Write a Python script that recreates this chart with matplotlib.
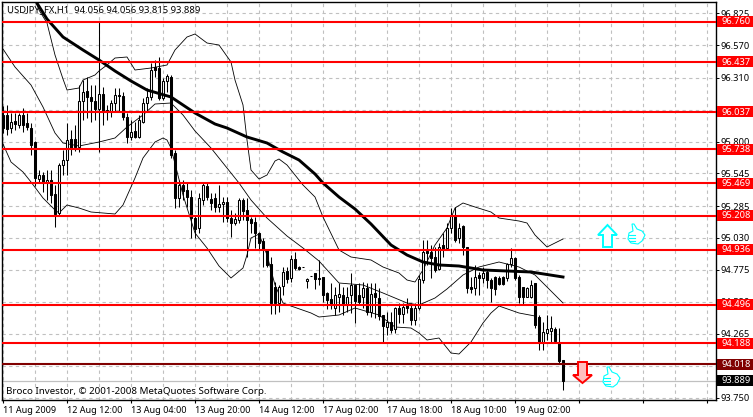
import matplotlib
matplotlib.use('Agg')
import matplotlib.pyplot as plt
from matplotlib.patches import Polygon, Rectangle
from matplotlib.transforms import Affine2D, blended_transform_factory

plt.rcParams['font.family'] = ['Noto Sans', 'DejaVu Sans']

# H1 candles
opens = [96.013, 96.013, 95.909, 95.965, 95.933, 96.013, 95.949, 95.909, 95.797, 95.501,
         95.533, 95.469, 95.493, 95.381, 95.229, 95.613, 95.653, 95.821, 95.821, 95.757,
         96.125, 96.205, 96.157, 96.125, 96.061, 96.181, 96.053, 96.037, 96.109, 96.173,
         96.165, 95.997, 95.837, 95.885, 95.837, 95.957, 96.109, 96.157, 96.397, 96.389,
         96.149, 96.285, 96.317, 95.709, 95.349, 95.453, 95.413, 95.357, 95.189, 95.109,
         95.333, 95.445, 95.341, 95.349, 95.277, 95.301, 95.317, 95.189, 95.149, 95.173,
         95.333, 95.253, 95.181, 95.157, 95.069, 95.005, 94.933, 94.821, 94.637, 94.509,
         94.645, 94.765, 94.709, 94.861, 94.797, 94.797, 94.685, 94.725, 94.749, 94.701,
         94.717, 94.589, 94.541, 94.469, 94.557, 94.573, 94.493, 94.573, 94.653, 94.573,
         94.557, 94.629, 94.437, 94.589, 94.549, 94.413, 94.317, 94.357, 94.301, 94.469,
         94.421, 94.493, 94.469, 94.373, 94.469, 94.693, 94.925, 94.917, 94.877, 94.781,
         94.973, 94.949, 95.109, 95.205, 95.029, 95.125, 94.957, 94.637, 94.629, 94.733,
         94.709, 94.757, 94.693, 94.717, 94.709, 94.717, 94.709, 94.821, 94.869, 94.717,
         94.637, 94.557, 94.557, 94.669, 94.397, 94.189, 94.269, 94.285, 94.301, 94.197,
         94.056]
closes = [95.909, 95.901, 95.957, 95.941, 96.013, 95.933, 95.917, 95.773, 95.509, 95.533,
          95.469, 95.493, 95.373, 95.221, 95.613, 95.653, 95.813, 95.749, 95.757, 96.125,
          96.197, 96.157, 96.125, 96.061, 96.181, 96.037, 96.037, 96.109, 96.173, 96.165,
          95.997, 95.837, 95.877, 95.837, 95.973, 96.109, 96.157, 96.373, 96.373, 96.149,
          96.285, 96.325, 95.693, 95.349, 95.453, 95.405, 95.357, 95.189, 95.101, 95.349,
          95.453, 95.357, 95.309, 95.277, 95.301, 95.317, 95.189, 95.149, 95.181, 95.333,
          95.245, 95.173, 95.149, 95.069, 94.989, 94.933, 94.813, 94.509, 94.509, 94.637,
          94.757, 94.701, 94.861, 94.789, 94.781, 94.797, 94.701, 94.725, 94.701, 94.709,
          94.573, 94.533, 94.493, 94.573, 94.581, 94.493, 94.557, 94.653, 94.525, 94.517,
          94.629, 94.437, 94.581, 94.557, 94.405, 94.325, 94.357, 94.293, 94.469, 94.421,
          94.477, 94.469, 94.373, 94.469, 94.701, 94.917, 94.909, 94.869, 94.773, 94.957,
          94.941, 95.109, 95.205, 95.013, 95.109, 94.957, 94.629, 94.621, 94.717, 94.709,
          94.749, 94.693, 94.629, 94.621, 94.661, 94.661, 94.821, 94.869, 94.709, 94.557,
          94.557, 94.629, 94.653, 94.333, 94.189, 94.277, 94.301, 94.309, 94.205, 94.045,
          93.889]
highs = [96.085, 96.093, 96.029, 96.029, 96.029, 96.069, 96.029, 95.949, 95.805, 95.573,
         95.557, 95.573, 95.573, 95.453, 95.629, 95.733, 95.949, 95.893, 95.933, 96.253,
         96.293, 96.317, 96.253, 96.253, 96.757, 96.237, 96.093, 96.133, 96.229, 96.229,
         96.197, 96.029, 95.973, 95.957, 96.013, 96.149, 96.229, 96.429, 96.453, 96.477,
         96.309, 96.341, 96.333, 95.733, 95.493, 95.493, 95.477, 95.413, 95.205, 95.389,
         95.469, 95.469, 95.389, 95.389, 95.453, 95.357, 95.357, 95.253, 95.229, 95.349,
         95.349, 95.349, 95.197, 95.197, 95.077, 95.029, 94.933, 94.877, 94.677, 94.653,
         94.797, 94.797, 94.893, 94.917, 94.805, 94.797, 94.709, 94.725, 94.749, 94.853,
         94.717, 94.597, 94.669, 94.637, 94.669, 94.637, 94.637, 94.749, 94.653, 94.669,
         94.677, 94.669, 94.669, 94.669, 94.629, 94.413, 94.437, 94.437, 94.477, 94.509,
         94.509, 94.549, 94.509, 94.509, 94.733, 95.013, 95.013, 94.973, 94.957, 94.989,
         95.069, 95.149, 95.269, 95.277, 95.149, 95.133, 94.957, 94.717, 94.813, 94.757,
         94.797, 94.773, 94.709, 94.725, 94.725, 94.725, 94.829, 94.949, 94.877, 94.733,
         94.637, 94.637, 94.693, 94.669, 94.413, 94.357, 94.413, 94.405, 94.317, 94.309,
         94.056]
lows = [95.869, 95.853, 95.869, 95.893, 95.909, 95.877, 95.893, 95.693, 95.445, 95.469,
        95.397, 95.333, 95.309, 95.117, 95.213, 95.533, 95.533, 95.693, 95.725, 95.717,
        95.973, 95.989, 95.957, 95.973, 95.717, 95.933, 95.973, 95.997, 96.037, 96.037,
        95.973, 95.789, 95.813, 95.829, 95.829, 95.949, 96.037, 96.133, 96.317, 96.133,
        96.133, 96.197, 95.669, 95.269, 95.277, 95.333, 95.277, 95.029, 95.029, 95.069,
        95.293, 95.333, 95.253, 95.237, 95.237, 95.157, 95.157, 95.037, 95.133, 95.149,
        95.173, 94.877, 95.069, 94.949, 94.933, 94.797, 94.797, 94.421, 94.421, 94.437,
        94.573, 94.669, 94.677, 94.773, 94.773, 94.797, 94.629, 94.725, 94.621, 94.653,
        94.517, 94.461, 94.461, 94.413, 94.437, 94.413, 94.437, 94.429, 94.349, 94.493,
        94.469, 94.413, 94.397, 94.389, 94.373, 94.197, 94.253, 94.269, 94.269, 94.349,
        94.349, 94.429, 94.333, 94.333, 94.453, 94.669, 94.813, 94.709, 94.757, 94.773,
        94.877, 94.933, 95.069, 94.997, 94.989, 94.893, 94.589, 94.589, 94.573, 94.573,
        94.669, 94.629, 94.517, 94.573, 94.653, 94.653, 94.685, 94.797, 94.693, 94.509,
        94.493, 94.557, 94.549, 94.309, 94.133, 94.133, 94.213, 94.197, 94.189, 94.029,
        93.815]

ma_bars = [8, 11, 15, 20, 24, 28, 32, 36, 42, 48, 53, 56, 61, 66, 70, 74, 78, 80, 84, 88,
           92, 97, 101, 105, 109, 114, 117, 120, 126, 132, 140]
ma_vals = [96.933, 96.781, 96.637, 96.533, 96.453, 96.365, 96.285, 96.213, 96.157, 96.029,
           95.941, 95.909, 95.837, 95.789, 95.717, 95.653, 95.541, 95.469, 95.357, 95.261,
           95.141, 94.973, 94.893, 94.837, 94.813, 94.805, 94.789, 94.773, 94.765, 94.757,
           94.717]

upper_bars = [8, 9, 11, 13, 15, 16, 19, 20, 23, 24, 26, 28, 31, 33, 37, 41, 43, 46, 48, 51, 54,
              57, 58, 60, 61, 62, 64, 66, 68, 69, 71, 75, 78, 80, 84, 87, 92, 95, 99, 101,
              103, 105, 108, 111, 113, 115, 118, 122, 124, 129, 131, 133, 136, 140]
upper_vals = [96.933, 96.853, 96.749, 96.493, 96.301, 96.213, 96.229, 96.293, 96.333, 96.365,
              96.413, 96.469, 96.477, 96.373, 96.389, 96.413, 96.533, 96.637, 96.661, 96.589,
              96.573, 96.437, 96.293, 96.093, 95.813, 95.573, 95.501, 95.533, 95.645, 95.661,
              95.613, 95.453, 95.357, 95.197, 94.933, 94.877, 94.853, 94.797, 94.749, 94.693,
              94.677, 94.773, 94.973, 95.109, 95.269, 95.309, 95.277, 95.237, 95.189, 95.165,
              95.149, 95.053, 94.957, 95.021]

mid_bars = [0, 3, 7, 10, 13, 15, 19, 24, 28, 31, 35, 38, 42, 45, 48, 52, 56, 59, 62, 66, 71,
            75, 79, 84, 90, 95, 101, 104, 108, 111, 115, 119, 124, 129, 133, 136, 140]
mid_vals = [96.541, 96.397, 96.253, 96.077, 95.869, 95.789, 95.765, 95.797, 95.829, 95.917,
            96.013, 96.101, 96.109, 96.013, 95.885, 95.749, 95.589, 95.469, 95.333, 95.189,
            95.045, 94.949, 94.845, 94.669, 94.653, 94.589, 94.509, 94.493, 94.549, 94.621,
            94.733, 94.797, 94.837, 94.797, 94.733, 94.637, 94.509]

lower_bars = [0, 2, 5, 7, 10, 13, 14, 16, 19, 22, 28, 30, 33, 35, 38, 40, 41, 42, 45, 48, 51,
              54, 57, 60, 61, 62, 64, 66, 68, 70, 72, 77, 79, 84, 88, 94, 98, 102, 104, 106,
              109, 112, 114, 117, 120, 122, 124, 129, 133]
lower_vals = [95.781, 95.637, 95.557, 95.477, 95.349, 95.253, 95.229, 95.293, 95.269, 95.237,
              95.221, 95.293, 95.509, 95.669, 95.797, 95.829, 95.813, 95.749, 95.373, 95.069,
              94.949, 94.805, 94.709, 94.789, 94.893, 95.029, 95.061, 94.893, 94.653, 94.509,
              94.485, 94.429, 94.397, 94.413, 94.469, 94.413, 94.317, 94.309, 94.269, 94.213,
              94.229, 94.109, 94.101, 94.197, 94.349, 94.429, 94.485, 94.429, 94.405]

red_levels = [96.760, 96.437, 96.037, 95.738, 95.469, 95.208, 94.936, 94.496, 94.188]
dark_level = 94.018
last_price = 93.889

price_ticks = [96.825, 96.570, 96.310, 96.055, 95.800, 95.545, 95.285, 95.030, 94.775,
               94.520, 94.265, 94.005, 93.750]
time_labels = ['11 Aug 2009', '12 Aug 12:00', '13 Aug 04:00', '13 Aug 20:00', '14 Aug 12:00',
               '17 Aug 02:00', '17 Aug 18:00', '18 Aug 10:00', '19 Aug 02:00']

W, H = 753, 417
fig = plt.figure(figsize=(W / 100, H / 100), dpi=100, facecolor='white')
ax = fig.add_axes([2 / W, 1 - 400 / H, 714 / W, 398 / H])
ax.set_xlim(-0.25, 178.25)
ax.set_ylim(93.733, 96.917)
ax.set_axisbelow(True)

for s in ax.spines.values():
    s.set_linewidth(1.0)
    s.set_color('black')

grid = '#c0c0c0'
ax.set_yticks(price_ticks)
ax.set_yticklabels(['%.3f' % p for p in price_ticks], fontsize=6.7)
ax.yaxis.tick_right()
ax.tick_params(axis='y', length=2, width=0.7, pad=1.5)
ax.set_xticks(range(0, 178, 16))
ax.set_xticks(range(8, 178, 16), minor=True)
ax.set_xticklabels(time_labels + [''] * (len(range(0, 178, 16)) - len(time_labels)),
                   fontsize=6.5, ha='left')
ax.tick_params(axis='x', which='major', length=2.5, width=0.8, pad=1.5)
ax.tick_params(axis='x', which='minor', length=0)
ax.grid(True, which='both', color=grid, linestyle=(0, (3, 3)), linewidth=0.8)

# band + MA lines go under the candles
ax.plot(upper_bars, upper_vals, color='black', lw=0.6, zorder=2)
ax.plot(mid_bars, mid_vals, color='black', lw=0.6, zorder=2)
ax.plot(lower_bars, lower_vals, color='black', lw=0.6, zorder=2)
ax.axhline(last_price, color=grid, lw=0.9, zorder=1)

bars = range(len(opens))
ax.vlines(bars, lows, highs, color='black', lw=0.75, zorder=3)
colors = ['white' if c > o else 'black' for o, c in zip(opens, closes)]
ax.bar(bars, [c - o for o, c in zip(opens, closes)], bottom=opens, width=0.55, color=colors,
       edgecolor='black', linewidth=0.75, zorder=3)
ax.plot(ma_bars, ma_vals, color='black', lw=2.1, zorder=4)

for lv in red_levels:
    ax.axhline(lv, color='#ff0000', lw=1.5, zorder=5)
ax.axhline(dark_level, color='#800000', lw=1.5, zorder=5)

# price tags in the right margin
trans = blended_transform_factory(ax.transAxes, ax.transData)
tag_x = (717 - 2) / 714
tag_w = 36 / 714
tags = [(lv, '#ff0000') for lv in red_levels] + [(dark_level, '#800000'), (last_price, 'black')]
for lv, col in tags:
    ax.add_patch(Rectangle((tag_x, lv - 0.044), tag_w, 0.088, transform=trans, color=col,
                           clip_on=False, zorder=6, lw=0))
    ax.text(tag_x + 4 / 714, lv - 0.002, '%.3f' % lv, transform=trans, color='white', fontsize=6.7,
            va='center', ha='left', zorder=7, clip_on=False)

ax.text(5 / 714, 1 - 8 / 398, 'USDJPY_FX,H1  94.056 94.056 93.815 93.889', transform=ax.transAxes,
        fontsize=6.8, va='center', ha='left', zorder=8)
ax.text(4 / 714, 1 - 390 / 398, 'Broco Investor, © 2001-2008 MetaQuotes Software Corp.',
        transform=ax.transAxes, fontsize=7.0, va='center', ha='left', zorder=8,
        bbox=dict(facecolor='white', edgecolor='none', pad=0.5))

# signal arrows and thumbs, placed in image pixels
px = Affine2D().scale(1, -1).translate(0, H)


def arrow(x, top, bottom, head_y, up, edge, face):
    if up:
        pts = [(x, top), (x + 9.5, head_y), (x + 4.5, head_y), (x + 4.5, bottom),
               (x - 4.5, bottom), (x - 4.5, head_y), (x - 9.5, head_y)]
    else:
        pts = [(x, bottom), (x + 9.5, head_y), (x + 4.5, head_y), (x + 4.5, top),
               (x - 4.5, top), (x - 4.5, head_y), (x - 9.5, head_y)]
    fig.add_artist(Polygon(pts, closed=True, transform=px, edgecolor=edge, facecolor=face, lw=1.4,
                           zorder=9))


def thumb(x, y):
    outline = [(4, 0), (6, 0), (9, 5), (14, 7), (17, 11), (14, 17), (10, 20), (3, 19), (0, 15),
               (1, 9), (5, 7)]
    fig.add_artist(Polygon([(x + a, y + b) for a, b in outline], closed=True, transform=px,
                           edgecolor='#00ffff', facecolor='white', lw=0.8, zorder=9))
    for b in (11, 14, 17):
        fig.add_artist(plt.Line2D([x + 0.5, x + 7], [y + b, y + b], transform=px,
                                  color='#00ffff', lw=0.8, zorder=9))


arrow(607.5, 225, 247, 235, True, '#00ffff', 'white')
thumb(628, 224)
arrow(582.5, 362, 383, 375, False, '#ff0000', '#ffc0c0')
thumb(603, 367)

fig.savefig('out.png', dpi=100)
